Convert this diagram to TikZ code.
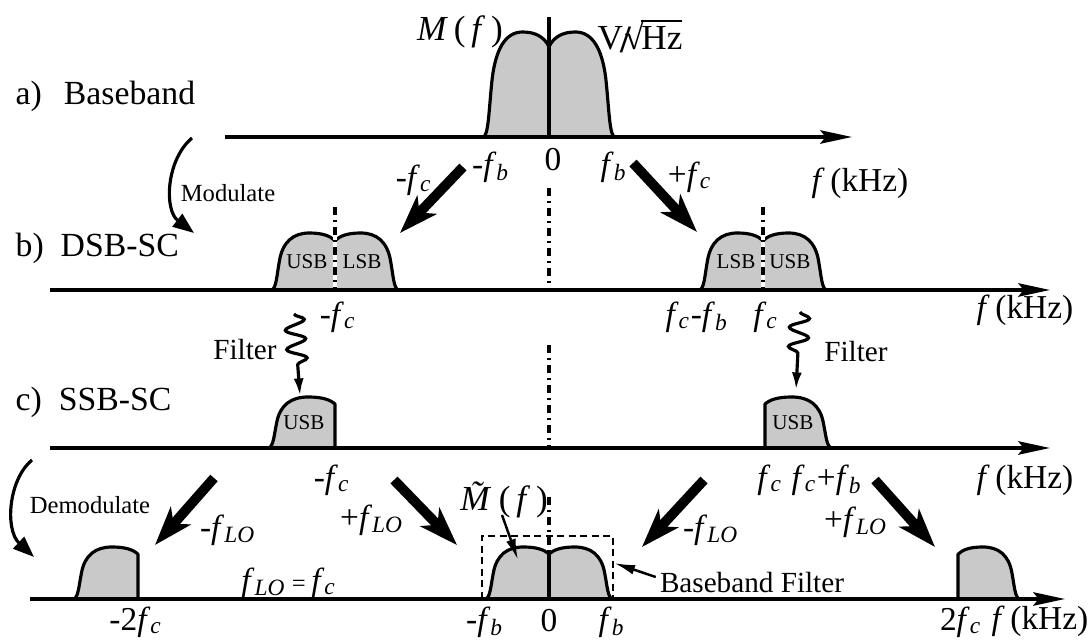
\documentclass[tikz,border=0pt]{standalone}
\usepackage{fontspec}
\setmainfont{Liberation Serif}
\usetikzlibrary{arrows.meta,decorations.pathmorphing}

\newcommand{\fq}[1]{\textit{f}\textsubscript{\textit{#1}}}

\begin{document}
\begin{tikzpicture}[
  x=0.01cm, y=-0.01cm,
  axis/.style={line width=1pt, -{Stealth[length=9pt,width=3.8pt,inset=1.5pt]}},
  outline/.style={line width=0.9pt, line join=round},
  band/.style={fill=black!21},
  big/.style={line width=2.8pt, -{Stealth[length=11pt,width=7.5pt,inset=3pt]}},
  bendarrow/.style={line width=0.9pt, -{Triangle[length=6pt,width=4.5pt]}},
  squig/.style={line width=0.9pt, -{Latex[length=5pt,width=2.8pt]}, decorate,
    decoration={snake, amplitude=2.8pt, segment length=5.5pt, post length=8pt}},
  pointer/.style={line width=0.7pt, -{Latex[length=6pt,width=2.8pt]}},
  centerline/.style={line width=1.1pt, dash pattern=on 0.08cm off 0.05cm on 0.02cm off 0.05cm},
  filterbox/.style={line width=0.7pt, dash pattern=on 0.07cm off 0.045cm},
  rowtitle/.style={font=\fontsize{9.6}{11}\selectfont, anchor=west, inner sep=0pt},
  lbl/.style={font=\fontsize{9.5}{11}\selectfont, inner sep=1pt},
  big lbl/.style={font=\fontsize{10}{12}\selectfont, inner sep=1pt},
  small/.style={font=\fontsize{7}{8}\selectfont, inner sep=1pt},
  filt/.style={font=\fontsize{8.3}{9}\selectfont, inner sep=1pt},
  sb/.style={font=\fontsize{6}{7}\selectfont, inner sep=0.5pt},
  lobe/.pic={
    \fill[band] (0,0) .. controls (0.08,0) and (0.09,0.25) .. (0.13,0.5) .. controls (0.18,0.85) and (0.35,1) .. (0.6,1) .. controls (0.8,1) and (0.93,0.95) .. (1,0.86) -- (1,0) -- cycle;
    \draw[outline] (0,0) .. controls (0.08,0) and (0.09,0.25) .. (0.13,0.5) .. controls (0.18,0.85) and (0.35,1) .. (0.6,1) .. controls (0.8,1) and (0.93,0.95) .. (1,0.86);
  },
  ssb/.pic={
    \fill[band] (0,0) .. controls (0.08,0) and (0.09,0.25) .. (0.13,0.5) .. controls (0.18,0.85) and (0.35,1) .. (0.6,1) .. controls (0.8,1) and (0.93,0.95) .. (1,0.86) -- (1,0) -- cycle;
    \draw[outline] (0,0) .. controls (0.08,0) and (0.09,0.25) .. (0.13,0.5) .. controls (0.18,0.85) and (0.35,1) .. (0.6,1) .. controls (0.8,1) and (0.93,0.95) .. (1,0.86) -- (1,0);
  }
]
\useasboundingbox (0,0) rectangle (1090,640);

% spectra
\pic[xscale=66, yscale=-105] at (483,137) {lobe};
\pic[xscale=-66, yscale=-105] at (615,137) {lobe};
\pic[xscale=64, yscale=-57] at (271,290) {lobe};
\pic[xscale=-64, yscale=-57] at (399,290) {lobe};
\pic[xscale=64, yscale=-57] at (699,290) {lobe};
\pic[xscale=-64, yscale=-57] at (827,290) {lobe};
\pic[xscale=67, yscale=-51] at (268,448) {ssb};
\pic[xscale=-67, yscale=-51] at (832,448) {ssb};
\pic[xscale=65, yscale=-52] at (73,599) {ssb};
\pic[xscale=-62, yscale=-52] at (1020,599) {ssb};
\pic[xscale=64, yscale=-52] at (485,599) {lobe};
\pic[xscale=-64, yscale=-52] at (613,599) {lobe};

\draw[axis] (225,137) -- (852,137);
\draw[axis] (50,290) -- (1050,290);
\draw[axis] (50,448) -- (1050,448);
\draw[axis] (30,599) -- (1065,599);

\draw[outline] (549,17) -- (549,137);
\draw[centerline] (549,188) -- (549,288);
\draw[centerline] (549,345) -- (549,446);
\draw[centerline] (549,497) -- (549,553);
\draw[outline] (549,553) -- (549,599);
\draw[white, line width=1.1pt] (335,232) -- (335,289);
\draw[centerline] (335,207) -- (335,290);
\draw[white, line width=1.1pt] (763,232) -- (763,289);
\draw[centerline] (763,207) -- (763,290);
\draw[filterbox] (482,599) |- (613,536) -- (613,599);

\node[rowtitle] (titleA) at (15,96) {a)\hspace{0.65em}Baseband};
\node[rowtitle] (titleB) at (15,248) {b)\hspace{0.5em}DSB-SC};
\node[rowtitle] (titleC) at (15,402) {c)\hspace{0.5em}SSB-SC};

\node[big lbl] (mf) at (460,32) {\textit{M}\,(\,\textit{f}\,)};
\node[big lbl] (unit) at (640,36) {V\kern-0.08em\raisebox{-0.1em}{\fontsize{11}{11}\selectfont\textbf{/}}\kern-0.2em√\kern-0.06em$\overline{\mbox{Hz}}$};
\node[lbl] (fbA1) at (491,167) {-\fq{b}};
\node[lbl] (zeroA) at (553,160) {0};
\node[lbl] (fbA2) at (614,167) {\fq{b}};
\node[lbl] (fcA1) at (414,180) {-\fq{c}};
\node[lbl] (fcA2) at (690,177) {+\fq{c}};
\node[lbl] (khzA) at (860,183) {\textit{f}\,(kHz)};
\node[small] (modtxt) at (228,193) {Modulate};

\node[sb] (usbB1) at (307,262) {USB};
\node[sb] (lsbB1) at (362,262) {LSB};
\node[sb] (lsbB2) at (736,262) {LSB};
\node[sb] (usbB2) at (790,262) {USB};
\node[lbl] (fcB1) at (338,317) {-\fq{c}};
\node[lbl] (fcfbB) at (697,317) {\fq{c}-\fq{b}};
\node[lbl] (fcB2) at (766,317) {\fq{c}};
\node[lbl] (khzB) at (1025,310) {\textit{f}\,(kHz)};
\node[filt] (filtL) at (245,350) {Filter};
\node[filt] (filtR) at (856,352) {Filter};

\node[sb] (usbC1) at (304,423) {USB};
\node[sb] (usbC2) at (793,423) {USB};
\node[lbl] (fcC1) at (332,480) {-\fq{c}};
\node[lbl] (fcC2) at (770,480) {\fq{c}};
\node[lbl] (fcfbC) at (827,480) {\fq{c}+\fq{b}};
\node[lbl] (khzC) at (1025,480) {\textit{f}\,(kHz)};

\node[small] (demtxt) at (90,505) {Demodulate};
\node[lbl] (lo1) at (228,530) {-\fq{LO}};
\node[lbl] (lo2) at (372,520) {+\fq{LO}};
\node[lbl] (lo3) at (711,530) {-\fq{LO}};
\node[lbl] (lo4) at (856,522) {+\fq{LO}};
\node[big lbl] (mtil) at (504,500) {\textit{M̃}\kern-0.3em\,(\,\textit{f}\,)};
\node[lbl] (loeq) at (289,583) {\fq{LO}\,{\fontsize{7}{8}\selectfont=}\,\fq{c}};
\node[filt] (bbfilt) at (752,583) {Baseband Filter};
\node[lbl] (m2fc) at (136,622) {-2\fq{c}};
\node[lbl] (fbD1) at (485,622) {-\fq{b}};
\node[lbl] (zeroD) at (549,621) {0};
\node[lbl] (fbD2) at (612,622) {\fq{b}};
\node[lbl] (p2fc) at (961,622) {2\fq{c}};
\node[lbl] (khzD) at (1040,621) {\textit{f}\,(kHz)};

\coordinate (a1s) at (463,167);
\coordinate (a1e) at (400,233);
\coordinate (a2s) at (633,163);
\coordinate (a2e) at (697,232);
\coordinate (d1s) at (214,478);
\coordinate (d1e) at (155,545);
\coordinate (d2s) at (394,480);
\coordinate (d2e) at (457,545);
\coordinate (d3s) at (704,480);
\coordinate (d3e) at (642,547);
\coordinate (d4s) at (875,480);
\coordinate (d4e) at (935,547);
\draw[big] (a1s) -- (a1e);
\draw[big] (a2s) -- (a2e);
\draw[big] (d1s) -- (d1e);
\draw[big] (d2s) -- (d2e);
\draw[big] (d3s) -- (d3e);
\draw[big] (d4s) -- (d4e);

\coordinate (mod1) at (192,138);
\coordinate (mod2) at (194,233);
\coordinate (dem1) at (32,460);
\coordinate (dem2) at (34,557);
\draw[bendarrow] (mod1) .. controls (166,160) and (164,210) .. (mod2);
\draw[bendarrow] (dem1) .. controls (8,480) and (5,530) .. (dem2);

\coordinate (sqL1) at (294,314);
\coordinate (sqL2) at (300,396);
\coordinate (sqR1) at (800,312);
\coordinate (sqR2) at (796,390);
\draw[squig] (sqL1) -- (sqL2);
\draw[squig] (sqR1) -- (sqR2);

\coordinate (mtip) at (518,560);
\coordinate (bbtip) at (614,563);
\draw[pointer] (502,515) -- (mtip);
\draw[pointer] (bbfilt.west) ++(0,-6) coordinate (bbs) (bbs) -- (bbtip);
\end{tikzpicture}
\end{document}
